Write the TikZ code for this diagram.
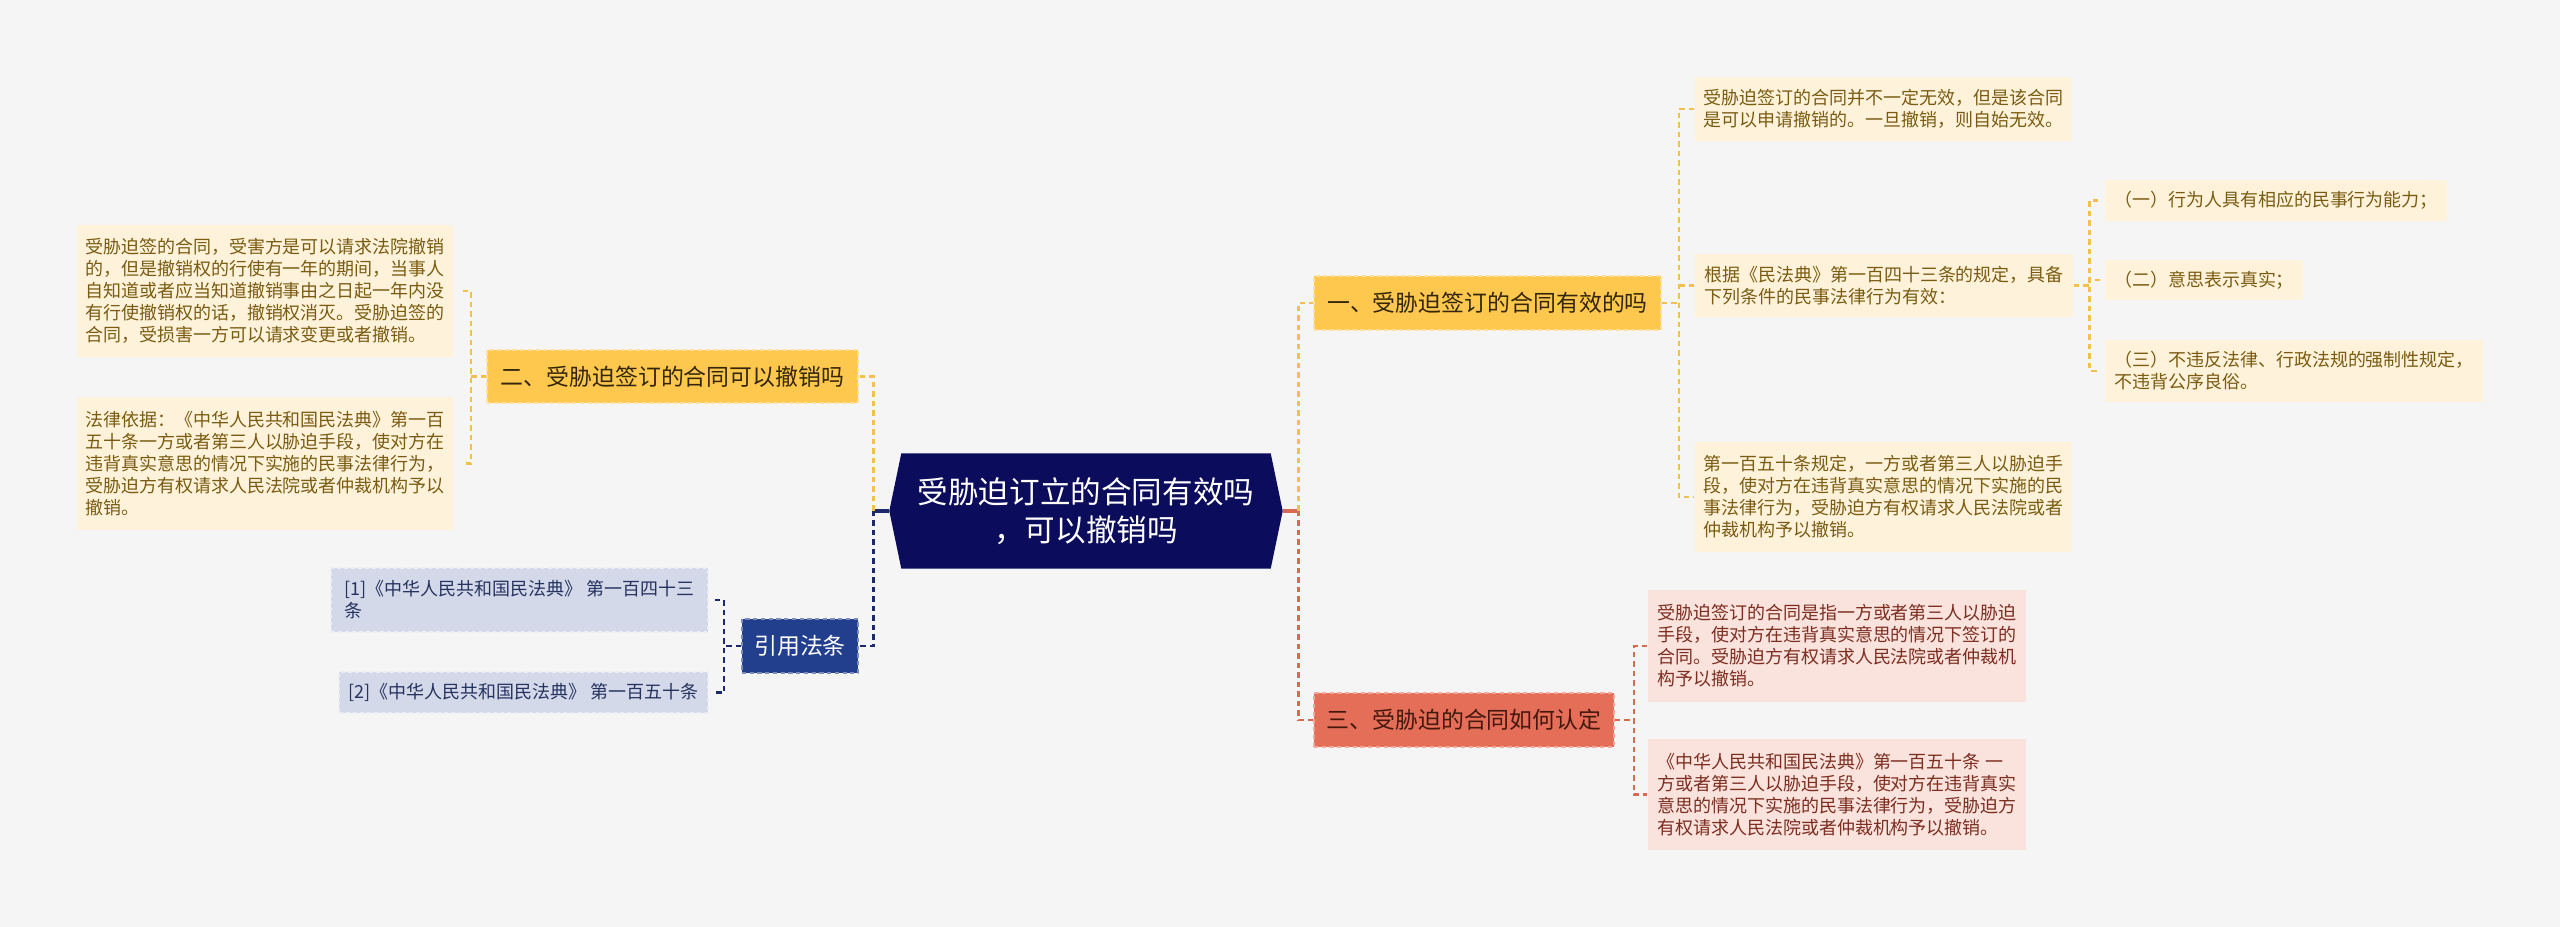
\documentclass[tikz,border=0pt]{standalone}
\usepackage{fontspec}
\setmainfont{Noto Sans CJK SC}
\usetikzlibrary{calc}
\pgfdeclarelayer{bg}
\pgfsetlayers{bg,main}
\definecolor{BackClr}{HTML}{F5F5F5}
\definecolor{RootClr}{HTML}{0B0C5B}
\definecolor{YelClr}{HTML}{FEC84E}
\definecolor{YelLine}{HTML}{F3C04F}
\definecolor{YelLeaf}{HTML}{FEF3DA}
\definecolor{YelText}{HTML}{7A5B12}
\definecolor{YelDark}{HTML}{33260A}
\definecolor{RedClr}{HTML}{E56E58}
\definecolor{RedLine}{HTML}{D96A52}
\definecolor{RedLeaf}{HTML}{FAE2DD}
\definecolor{RedText}{HTML}{7C2E20}
\definecolor{RedDark}{HTML}{45180E}
\definecolor{NavyClr}{HTML}{213F8C}
\definecolor{NavyLine}{HTML}{1C2A6B}
\definecolor{NavyLeaf}{HTML}{D4D9EA}
\definecolor{NavyText}{HTML}{26335F}

\begin{document}
\begin{tikzpicture}[x=0.1mm,y=-0.1mm,
  smalltxt/.style={font=\fontsize{5.12}{6.24}\selectfont,align=left,inner sep=0pt},
  bigtxt/.style={font=\fontsize{6.52}{8}\selectfont,inner sep=0pt},
  rootnode/.style={font=\fontsize{8.7}{10.8}\selectfont,align=center,inner sep=0pt,text=white},
  yleaf/.style={smalltxt,fill=YelLeaf,text=YelText},
  rleaf/.style={smalltxt,fill=RedLeaf,text=RedText},
  nleaf/.style={smalltxt,fill=NavyLeaf,text=NavyText,draw=white!55!NavyLeaf,dash pattern=on 1pt off 1pt,line width=0.4pt},
  ybranch/.style={bigtxt,fill=YelClr,text=YelDark,draw=white!45!YelClr,dash pattern=on 1.2pt off 1pt,line width=0.5pt},
  rbranch/.style={bigtxt,fill=RedClr,text=RedDark,draw=white!40!RedClr,dash pattern=on 1.2pt off 1pt,line width=0.5pt},
  nbranch/.style={bigtxt,fill=NavyClr,text=white,draw=white!40!NavyClr,dash pattern=on 1.2pt off 1pt,line width=0.5pt},
  ylink/.style={YelLine,line width=0.75pt,dash pattern=on 0.55mm off 0.4mm},
  rlink/.style={RedLine,line width=0.75pt,dash pattern=on 0.55mm off 0.4mm},
  nlink/.style={NavyLine,line width=0.75pt,dash pattern=on 0.55mm off 0.4mm}]

\useasboundingbox (0,0) rectangle (2560,927);

% centre
\node[rootnode,minimum width=39.2mm,minimum height=11.4mm] (q) at (1086,511) {受胁迫订立的合同有效吗\\，可以撤销吗};

% left part
\node[ybranch,minimum width=37.1mm,minimum height=5.3mm] (br2) at (672.5,376.5) {二、受胁迫签订的合同可以撤销吗};
\node[yleaf,minimum width=37.6mm,minimum height=13.2mm] (p1) at (265,291) {受胁迫签的合同，受害方是可以请求法院撤销\\的，但是撤销权的行使有一年的期间，当事人\\自知道或者应当知道撤销事由之日起一年内没\\有行使撤销权的话，撤销权消灭。受胁迫签的\\合同，受损害一方可以请求变更或者撤销。};
\node[yleaf,minimum width=37.6mm,minimum height=13.3mm] (p2) at (265,463.5) {法律依据：《中华人民共和国民法典》第一百\\五十条一方或者第三人以胁迫手段，使对方在\\违背真实意思的情况下实施的民事法律行为，\\受胁迫方有权请求人民法院或者仲裁机构予以\\撤销。};

\node[nbranch,minimum width=11.6mm,minimum height=5.4mm] (cite) at (800,646) {引用法条};
\node[nleaf,minimum width=37.7mm,minimum height=6.4mm] (r1) at (519.5,600) {[1]《中华人民共和国民法典》 第一百四十三\\条};
\node[nleaf,minimum width=36.9mm,minimum height=4.1mm] (r2) at (523.5,692.5) {[2]《中华人民共和国民法典》 第一百五十条};

% right part
\node[ybranch,minimum width=34.7mm,minimum height=5.4mm] (br1) at (1487.5,303) {一、受胁迫签订的合同有效的吗};
\node[yleaf,minimum width=37.7mm,minimum height=6.4mm] (a) at (1883.5,109) {受胁迫签订的合同并不一定无效，但是该合同\\是可以申请撤销的。一旦撤销，则自始无效。};
\node[yleaf,minimum width=37.8mm,minimum height=6.3mm] (b) at (1884,285.5) {根据《民法典》第一百四十三条的规定，具备\\下列条件的民事法律行为有效：};
\node[yleaf,minimum width=37.7mm,minimum height=11mm] (c) at (1883.5,497) {第一百五十条规定，一方或者第三人以胁迫手\\段，使对方在违背真实意思的情况下实施的民\\事法律行为，受胁迫方有权请求人民法院或者\\仲裁机构予以撤销。};
\node[yleaf,minimum width=34.2mm,minimum height=4.1mm] (b1) at (2276,200.5) {（一）行为人具有相应的民事行为能力；};
\node[yleaf,minimum width=19.8mm,minimum height=4mm] (b2) at (2204,280) {（二）意思表示真实；};
\node[yleaf,minimum width=37.8mm,minimum height=6.2mm] (b3) at (2294,371) {（三）不违反法律、行政法规的强制性规定，\\不违背公序良俗。};

\node[rbranch,minimum width=30mm,minimum height=5.4mm] (br3) at (1464,720) {三、受胁迫的合同如何认定};
\node[rleaf,minimum width=37.8mm,minimum height=11.2mm] (d1) at (1837,646) {受胁迫签订的合同是指一方或者第三人以胁迫\\手段，使对方在违背真实意思的情况下签订的\\合同。受胁迫方有权请求人民法院或者仲裁机\\构予以撤销。};
\node[rleaf,minimum width=37.8mm,minimum height=11.1mm] (d2) at (1837,794.5) {《中华人民共和国民法典》第一百五十条 一\\方或者第三人以胁迫手段，使对方在违背真实\\意思的情况下实施的民事法律行为，受胁迫方\\有权请求人民法院或者仲裁机构予以撤销。};

\begin{pgfonlayer}{bg}
\fill[BackClr] (0,0) rectangle (2560,927);
\fill[RootClr] (q.west) -- ([xshift=1.2mm]q.north west) -- ([xshift=-1.2mm]q.north east) -- (q.east) -- ([xshift=-1.2mm]q.south east) -- ([xshift=1.2mm]q.south west) -- cycle;
\end{pgfonlayer}

% joints
\coordinate (lj) at ($(q.west)+(-16,0)$);
\coordinate (rj) at ($(q.east)+(16,0)$);
\coordinate (k2) at ($(br2.west)+(-15,0)$);
\coordinate (kc) at ($(cite.west)+(-17,0)$);
\coordinate (k1) at ($(br1.east)+(17,0)$);
\coordinate (kb) at ($(b.east)+(16,0)$);
\coordinate (k3) at ($(br3.east)+(19,0)$);

\draw[NavyLine,line width=0.9pt] (q.west) -- (lj);
\draw[RedLine,line width=0.9pt] (q.east) -- (rj);
\draw[ylink] (lj) |- (br2.east);
\draw[nlink] (lj) |- (cite.east);
\draw[ylink] (rj) |- (br1.west);
\draw[rlink] (rj) |- (br3.west);

\draw[ylink] (br2.west) -- (k2);
\draw[ylink,shorten <=0.9mm,shorten >=0.9mm] (p1.east) -| (k2) |- (p2.east);
\draw[nlink] (cite.west) -- (kc);
\draw[nlink,shorten <=0.6mm,shorten >=0.6mm] (r1.east) -| (kc) |- (r2.east);

\draw[ylink] (br1.east) -- (k1);
\draw[ylink] (a.west) -| (k1) |- (c.west);
\draw[ylink] (b.west) -- (b.west -| k1);
\draw[ylink] (b.east) -- (kb);
\draw[ylink,shorten <=0.6mm,shorten >=0.6mm] (b1.west) -| (kb) |- (b3.west);
\draw[ylink,shorten <=0.4mm] (b2.west) -- (b2.west -| kb);

\draw[rlink] (br3.east) -- (k3);
\draw[rlink] (d1.west) -| (k3) |- (d2.west);

\end{tikzpicture}
\end{document}
